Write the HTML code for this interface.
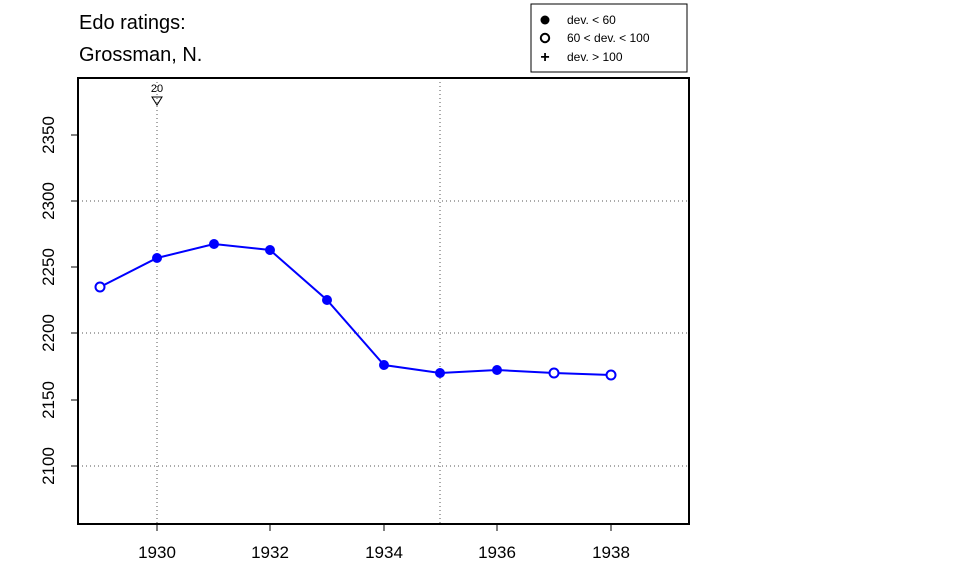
<!DOCTYPE html>
<html><head><style>body{margin:0;background:#fff}svg{display:block}</style></head><body>
<svg width="960" height="576" xmlns="http://www.w3.org/2000/svg" font-family="Liberation Sans, Arial, sans-serif">
<rect width="960" height="576" fill="#fff"/>
<text x="79" y="29" font-size="20">Edo ratings:</text>
<text x="79" y="61" font-size="20">Grossman, N.</text>
<rect x="531" y="4" width="156" height="68" fill="#fff" stroke="#000" stroke-width="1"/>
<circle cx="545" cy="20" r="4.5" fill="#000"/>
<text x="567" y="24" font-size="12">dev. &lt; 60</text>
<circle cx="545" cy="38" r="4.2" fill="none" stroke="#000" stroke-width="2"/>
<text x="567" y="42" font-size="12">60 &lt; dev. &lt; 100</text>
<text x="545" y="62" font-size="16" text-anchor="middle" font-weight="bold">+</text>
<text x="567" y="61" font-size="12">dev. &gt; 100</text>
<g stroke="#555" stroke-dasharray="1,3" stroke-width="1">
<line x1="157" y1="78" x2="157" y2="524"/>
<line x1="440" y1="78" x2="440" y2="524"/>
<line x1="78" y1="201" x2="689" y2="201"/>
<line x1="78" y1="333" x2="689" y2="333"/>
<line x1="78" y1="466" x2="689" y2="466"/>
</g>
<rect x="78" y="78" width="611" height="446" fill="none" stroke="#000" stroke-width="2"/>
<text x="157" y="92" font-size="11" text-anchor="middle">20</text>
<path d="M152 97 L162 97 L157 105 Z" fill="none" stroke="#000"/>
<g stroke="#000">
<line x1="71" y1="466" x2="78" y2="466"/><line x1="71" y1="400" x2="78" y2="400"/>
<line x1="71" y1="333" x2="78" y2="333"/><line x1="71" y1="267" x2="78" y2="267"/>
<line x1="71" y1="201" x2="78" y2="201"/><line x1="71" y1="135" x2="78" y2="135"/>
<line x1="157" y1="524" x2="157" y2="531"/><line x1="270" y1="524" x2="270" y2="531"/>
<line x1="384" y1="524" x2="384" y2="531"/><line x1="497" y1="524" x2="497" y2="531"/>
<line x1="611" y1="524" x2="611" y2="531"/>
</g>
<g font-size="17" text-anchor="middle">
<text transform="translate(54,466) rotate(-90)">2100</text>
<text transform="translate(54,400) rotate(-90)">2150</text>
<text transform="translate(54,333) rotate(-90)">2200</text>
<text transform="translate(54,267) rotate(-90)">2250</text>
<text transform="translate(54,201) rotate(-90)">2300</text>
<text transform="translate(54,135) rotate(-90)">2350</text>
<text x="157" y="558">1930</text><text x="270" y="558">1932</text>
<text x="384" y="558">1934</text><text x="497" y="558">1936</text>
<text x="611" y="558">1938</text>
</g>
<polyline fill="none" stroke="#0000ff" stroke-width="2" points="100,287 157,258 214,244 270,250 327,300 384,365 440,373 497,370 554,373 611,375"/>
<g fill="#0000ff">
<circle cx="157" cy="258" r="5"/><circle cx="214" cy="244" r="5"/><circle cx="270" cy="250" r="5"/>
<circle cx="327" cy="300" r="5"/><circle cx="384" cy="365" r="5"/><circle cx="440" cy="373" r="5"/>
<circle cx="497" cy="370" r="5"/>
</g>
<g fill="#fff" stroke="#0000ff" stroke-width="2">
<circle cx="100" cy="287" r="4.5"/><circle cx="554" cy="373" r="4.5"/><circle cx="611" cy="375" r="4.5"/>
</g>
</svg>
</body></html>
